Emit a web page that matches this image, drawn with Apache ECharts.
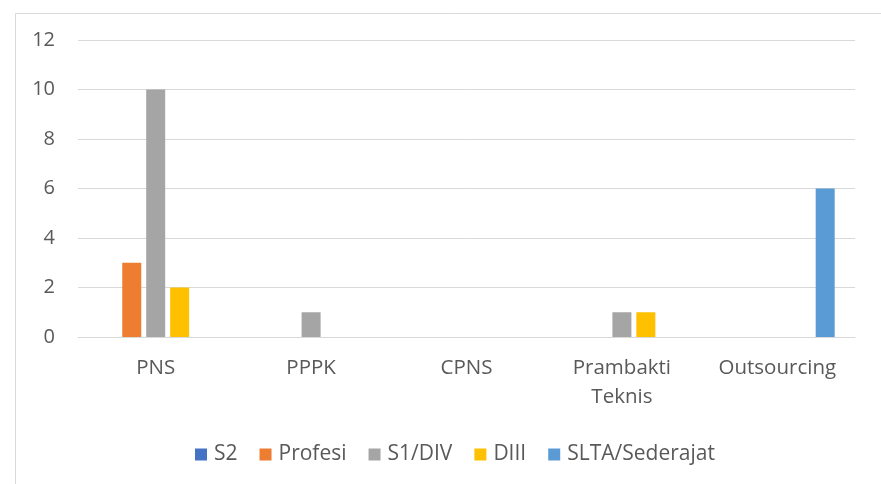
<!DOCTYPE html>
<html>
<head>
<meta charset="utf-8">
<script src="https://cdn.jsdelivr.net/npm/echarts@6/dist/echarts.min.js"></script>
<style>
html,body{margin:0;padding:0;background:#fff;}
#c{width:881px;height:484px;}
</style>
</head>
<body>
<div id="c"></div>
<script>
var categories = ['PNS', 'PPPK', 'CPNS', 'Prambakti\nTeknis', 'Outsourcing'];
var seriesNames = ['S2', 'Profesi', 'S1/DIV', 'DIII', 'SLTA/Sederajat'];
var s2 = [0, 0, 0, 0, 0];
var profesi = [3, 0, 0, 0, 0];
var s1div = [10, 1, 0, 1, 0];
var diii = [2, 0, 0, 1, 0];
var slta = [0, 0, 0, 0, 6];
var yTicks = [0, 2, 4, 6, 8, 10, 12];
var colors = ['#4472C4', '#ED7D31', '#A5A5A5', '#FFC000', '#5B9BD5'];

var values = [s2, profesi, s1div, diii, slta];
var font = '"Open Sans", "Noto Sans", sans-serif';
var chart = echarts.init(document.getElementById('c'));
chart.setOption({
  animation: false,
  color: colors,
  graphic: [{
    type: 'rect', left: 13, top: 11, silent: true,
    shape: {width: 1000, height: 600},
    style: {fill: 'none', stroke: '#d9d9d9', lineWidth: 1}
  }],
  grid: {left: 78, right: 26, top: 40, bottom: 147, containLabel: false},
  legend: {
    top: 439, left: 190,
    itemWidth: 12, itemHeight: 12, itemGap: 22,
    icon: 'rect',
    textStyle: {color: '#595959', fontSize: 21, fontFamily: font, padding: [0, 0, 0, 2]},
    data: seriesNames
  },
  xAxis: {
    type: 'category', data: categories,
    axisLine: {show: true, lineStyle: {color: '#d9d9d9', width: 1}},
    axisTick: {show: false},
    axisLabel: {color: '#595959', fontSize: 20.5, fontFamily: font, margin: 17, lineHeight: 29, interval: 0}
  },
  yAxis: {
    type: 'value', min: 0, max: 12, interval: 2,
    axisLine: {show: false}, axisTick: {show: false},
    splitLine: {lineStyle: {color: '#d9d9d9', width: 1}},
    axisLabel: {color: '#595959', fontSize: 20, fontFamily: font, margin: 23,
      formatter: function (v) { return yTicks.indexOf(v) >= 0 ? String(v) : ''; }}
  },
  series: seriesNames.map(function (n, i) {
    return {name: n, type: 'bar', data: values[i], barWidth: 19, barGap: '26%'};
  })
});
</script>
</body>
</html>
